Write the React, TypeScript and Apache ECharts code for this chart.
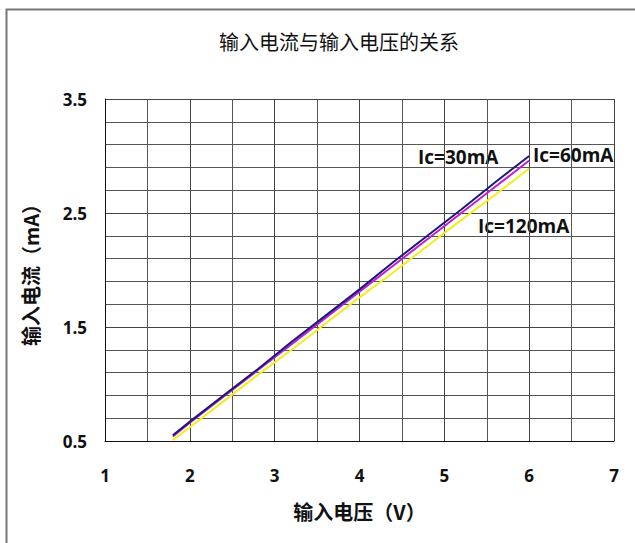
import React, { useEffect, useRef } from "react";
import * as echarts from "echarts";

const titleText = "输入电流与输入电压的关系";
const xName = "输入电压（V）";
const yName = "输入电流（mA）";
const voltages = [1.8, 2.0, 2.4, 2.8, 3.2, 3.6, 4.0, 4.4, 4.8, 5.2, 5.6, 6.0];
const ic30 = [0.55, 0.67, 0.9, 1.13, 1.37, 1.6, 1.83, 2.07, 2.3, 2.53, 2.77, 3.0];
const ic60 = [0.54, 0.66, 0.89, 1.12, 1.35, 1.58, 1.81, 2.04, 2.27, 2.5, 2.73, 2.96];
const ic120 = [0.51, 0.62, 0.85, 1.08, 1.3, 1.53, 1.76, 1.98, 2.21, 2.44, 2.66, 2.89];
const seriesNames = ["Ic=30mA", "Ic=60mA", "Ic=120mA"];

const pairs = (ys: number[]) => voltages.map((v, i) => [v, ys[i]]);

export default function App() {
  const ref = useRef<HTMLDivElement>(null);
  useEffect(() => {
    document.body.style.margin = "0";
    const chart = echarts.init(ref.current!, null, { renderer: "svg" });
    const labelFont = {
      fontFamily: "Open Sans",
      fontWeight: "bold" as const,
      fontSize: 19,
      fill: "#111",
    };
    chart.setOption({
      animation: false,
      backgroundColor: "#fff",
      title: {
        text: titleText,
        left: 334,
        top: 26,
        textAlign: "center",
        textStyle: {
          fontFamily: "Noto Sans CJK SC",
          fontSize: 20,
          fontWeight: "normal",
          color: "#111",
        },
      },
      grid: { left: 105, right: 21, top: 99, bottom: 102, containLabel: false },
      xAxis: {
        type: "value",
        min: 1,
        max: 7,
        interval: 1,
        name: xName,
        nameLocation: "middle",
        nameGap: 60,
        nameTextStyle: {
          fontFamily: "Noto Sans CJK SC",
          fontSize: 20,
          fontWeight: "bold",
          color: "#111",
          verticalAlign: "top",
        },
        axisLine: { show: true, lineStyle: { color: "#111", width: 1 } },
        axisTick: { show: false },
        axisLabel: {
          margin: 26,
          fontFamily: "Open Sans",
          fontWeight: "bold",
          fontSize: 17,
          color: "#111",
        },
        splitLine: { show: true, lineStyle: { color: "#444", width: 1 } },
        minorTick: { show: false, splitNumber: 2 },
        minorSplitLine: { show: true, lineStyle: { color: "#555", width: 1 } },
      },
      yAxis: {
        type: "value",
        min: 0.5,
        max: 3.5,
        interval: 1,
        name: yName,
        nameLocation: "middle",
        nameGap: 65,
        nameRotate: 90,
        nameTextStyle: {
          fontFamily: "Noto Sans CJK SC",
          fontSize: 20,
          fontWeight: "bold",
          color: "#111",
        },
        axisLine: { show: true, lineStyle: { color: "#111", width: 1 } },
        axisTick: { show: false },
        axisLabel: {
          margin: 18,
          fontFamily: "Open Sans",
          fontWeight: "bold",
          fontSize: 17,
          color: "#111",
          formatter: (v: number) => v.toFixed(1),
        },
        splitLine: { show: true, lineStyle: { color: "#444", width: 1 } },
        minorTick: { show: false, splitNumber: 5 },
        minorSplitLine: { show: true, lineStyle: { color: "#555", width: 1 } },
      },
      series: [
        {
          name: seriesNames[2],
          type: "line",
          data: pairs(ic120),
          showSymbol: false,
          lineStyle: { color: "#f2ee1c", width: 2 },
          itemStyle: { color: "#f2ee1c" },
        },
        {
          name: seriesNames[1],
          type: "line",
          data: pairs(ic60),
          showSymbol: false,
          lineStyle: { color: "#c21fd0", width: 2 },
          itemStyle: { color: "#c21fd0" },
        },
        {
          name: seriesNames[0],
          type: "line",
          data: pairs(ic30),
          showSymbol: false,
          lineStyle: { color: "#1c1a78", width: 2 },
          itemStyle: { color: "#1c1a78" },
        },
      ],
      graphic: [
        {
          type: "rect",
          silent: true,
          shape: { x: 6.5, y: 9.5, width: 800, height: 800 },
          style: { fill: "none", stroke: "#777", lineWidth: 2 },
        },
        {
          type: "text",
          x: 418,
          y: 157,
          style: { text: seriesNames[0], ...labelFont, verticalAlign: "middle" },
        },
        {
          type: "text",
          x: 533,
          y: 155,
          style: { text: seriesNames[1], ...labelFont, verticalAlign: "middle" },
        },
        {
          type: "text",
          x: 478,
          y: 226,
          style: { text: seriesNames[2], ...labelFont, verticalAlign: "middle" },
        },
      ],
    });
    return () => chart.dispose();
  }, []);
  return <div ref={ref} style={{ width: 635, height: 543 }} />;
}
